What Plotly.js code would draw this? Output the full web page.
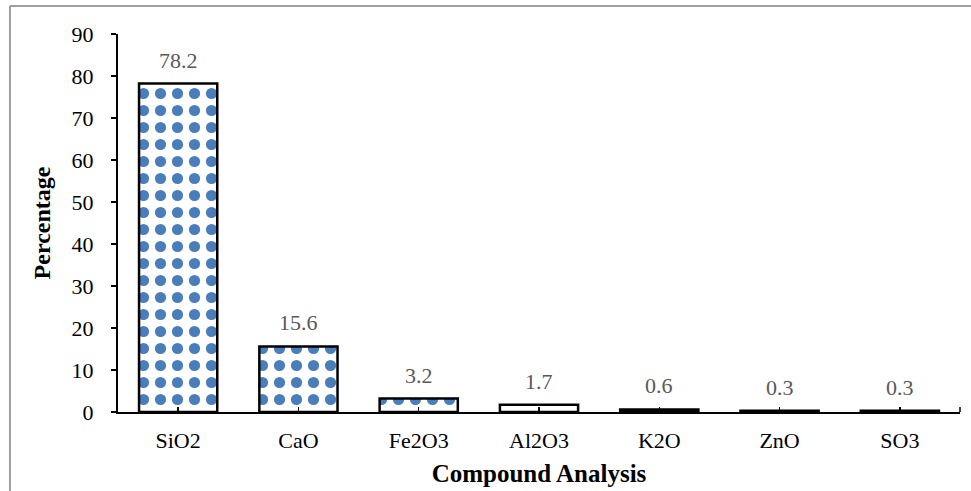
<!DOCTYPE html>
<html>
<head>
<meta charset="utf-8">
<script src="https://cdn.plot.ly/plotly-3.0.1.min.js"></script>
<style>
html,body{margin:0;padding:0;background:#fff;}
#chart{width:971px;height:491px;}
</style>
</head>
<body>
<div id="chart"></div>
<script>
const categories = ["SiO2", "CaO", "Fe2O3", "Al2O3", "K2O", "ZnO", "SO3"];
const percentages = [78.2, 15.6, 3.2, 1.7, 0.6, 0.3, 0.3];
const labels = ["78.2", "15.6", "3.2", "1.7", "0.6", "0.3", "0.3"];
const yTicks = [0, 10, 20, 30, 40, 50, 60, 70, 80, 90];

const serif = "Liberation Serif, Times New Roman, serif";

const trace = {
  type: "bar",
  x: categories,
  y: percentages,
  cliponaxis: false,
  width: 0.65,
  marker: {
    color: "#ffffff",
    line: {color: "#000000", width: 2.5},
    pattern: {shape: ".", fgcolor: "#4a7ebb", bgcolor: "#ffffff", size: 17, solidity: 0.34, fillmode: "replace"}
  },
  hoverinfo: "none"
};

const valueAnnotations = categories.map((c, i) => ({
  x: c, y: percentages[i], xref: "x", yref: "y",
  text: labels[i], showarrow: false, yanchor: "bottom", yshift: 9,
  font: {family: serif, size: 22, color: "#595959"}
}));

const layout = {
  width: 971,
  height: 491,
  margin: {l: 118, r: 11, t: 34, b: 79},
  paper_bgcolor: "#ffffff",
  plot_bgcolor: "#ffffff",
  showlegend: false,
  font: {family: serif, color: "#000000"},
  xaxis: {
    type: "category",
    showline: true,
    linecolor: "#000000",
    linewidth: 2,
    ticks: "inside",
    ticklen: 5,
    tickwidth: 1.5,
    tickcolor: "#000000",
    tickfont: {family: serif, size: 22, color: "#000000"},
    ticklabelstandoff: 8,
    showgrid: false,
    zeroline: false,
    title: {text: "<b>Compound Analysis</b>", font: {family: serif, size: 25, color: "#000000"}, standoff: 12}
  },
  yaxis: {
    range: [0, 90],
    tickvals: yTicks,
    ticktext: yTicks.map(String),
    showline: true,
    linecolor: "#000000",
    linewidth: 2,
    ticks: "outside",
    ticklen: 5,
    tickwidth: 1.5,
    tickcolor: "#000000",
    tickfont: {family: serif, size: 22, color: "#000000"},
    ticklabelstandoff: 13,
    showgrid: false,
    zeroline: false,
    title: {text: "<b>Percentage</b>", font: {family: serif, size: 24, color: "#000000"}, standoff: 14}
  },
  annotations: valueAnnotations,
  shapes: [
    {type: "line", xref: "paper", yref: "paper", x0: -0.1283, x1: 1.05, y0: 1.0741, y1: 1.0741, line: {color: "#7f7f7f", width: 1.5}},
    {type: "line", xref: "paper", yref: "paper", x0: -0.1283, x1: -0.1283, y0: -0.3, y1: 1.0741, line: {color: "#7f7f7f", width: 1.5}},
    {type: "line", xref: "paper", yref: "paper", ysizemode: "pixel", yanchor: 0, x0: 1, x1: 1, y0: 0, y1: 5, line: {color: "#000000", width: 1.5}}
  ]
};

Plotly.newPlot("chart", [trace], layout, {displayModeBar: false, staticPlot: true});
</script>
</body>
</html>
